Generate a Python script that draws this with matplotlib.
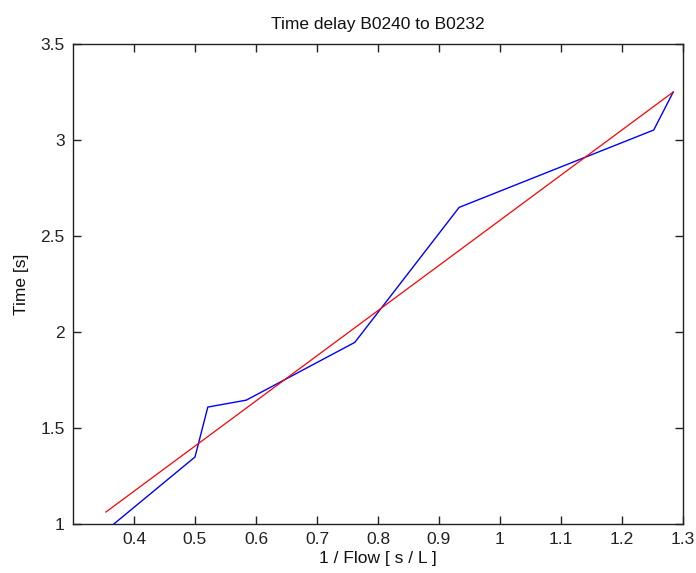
import matplotlib
matplotlib.use("Agg")
import matplotlib.pyplot as plt
import numpy as np

# measured points (blue) and linear fit end points (red)
flow_inv = [0.354, 0.500, 0.521, 0.584, 0.762, 0.933, 1.252, 1.284]
delay = [0.966, 1.349, 1.609, 1.645, 1.946, 2.649, 3.052, 3.250]

fit_x = [0.354, 1.284]
fit_y = [1.0625, 3.250]

x_ticks = [0.4, 0.5, 0.6, 0.7, 0.8, 0.9, 1.0, 1.1, 1.2, 1.3]
x_labels = ["0.4", "0.5", "0.6", "0.7", "0.8", "0.9", "1", "1.1", "1.2", "1.3"]
y_ticks = [1, 1.5, 2, 2.5, 3, 3.5]
y_labels = ["1", "1.5", "2", "2.5", "3", "3.5"]

plt.rcParams['font.family'] = ['Liberation Sans', 'DejaVu Sans']
fs = 12.5

fig = plt.figure(figsize=(6.96, 5.73), dpi=100)
ax = fig.add_axes([73 / 696, 1 - 524 / 573, 610 / 696, 480 / 573])

ax.plot(flow_inv, delay, color="#0000ff", lw=1.0)
ax.plot(fit_x, fit_y, color="#ff0000", lw=0.9)

ax.set_xlim(0.3, 1.3)
ax.set_ylim(1, 3.5)
ax.set_xticks(x_ticks)
ax.set_xticklabels(x_labels)
ax.set_yticks(y_ticks)
ax.set_yticklabels(y_labels)

ax.tick_params(direction="in", length=6, width=1, top=True, right=True,
               labelsize=fs, colors="#222222", pad=6)
for s in ax.spines.values():
    s.set_color("#222222")
    s.set_linewidth(1.0)

ax.set_title("Time delay B0240 to B0232", fontsize=fs, color="#111111", pad=11)
ax.set_xlabel("1 / Flow [ s / L ]", fontsize=fs, color="#111111", labelpad=3)
ax.set_ylabel("Time [s]", fontsize=fs, color="#111111", labelpad=8)

fig.savefig("out.png", dpi=100)
